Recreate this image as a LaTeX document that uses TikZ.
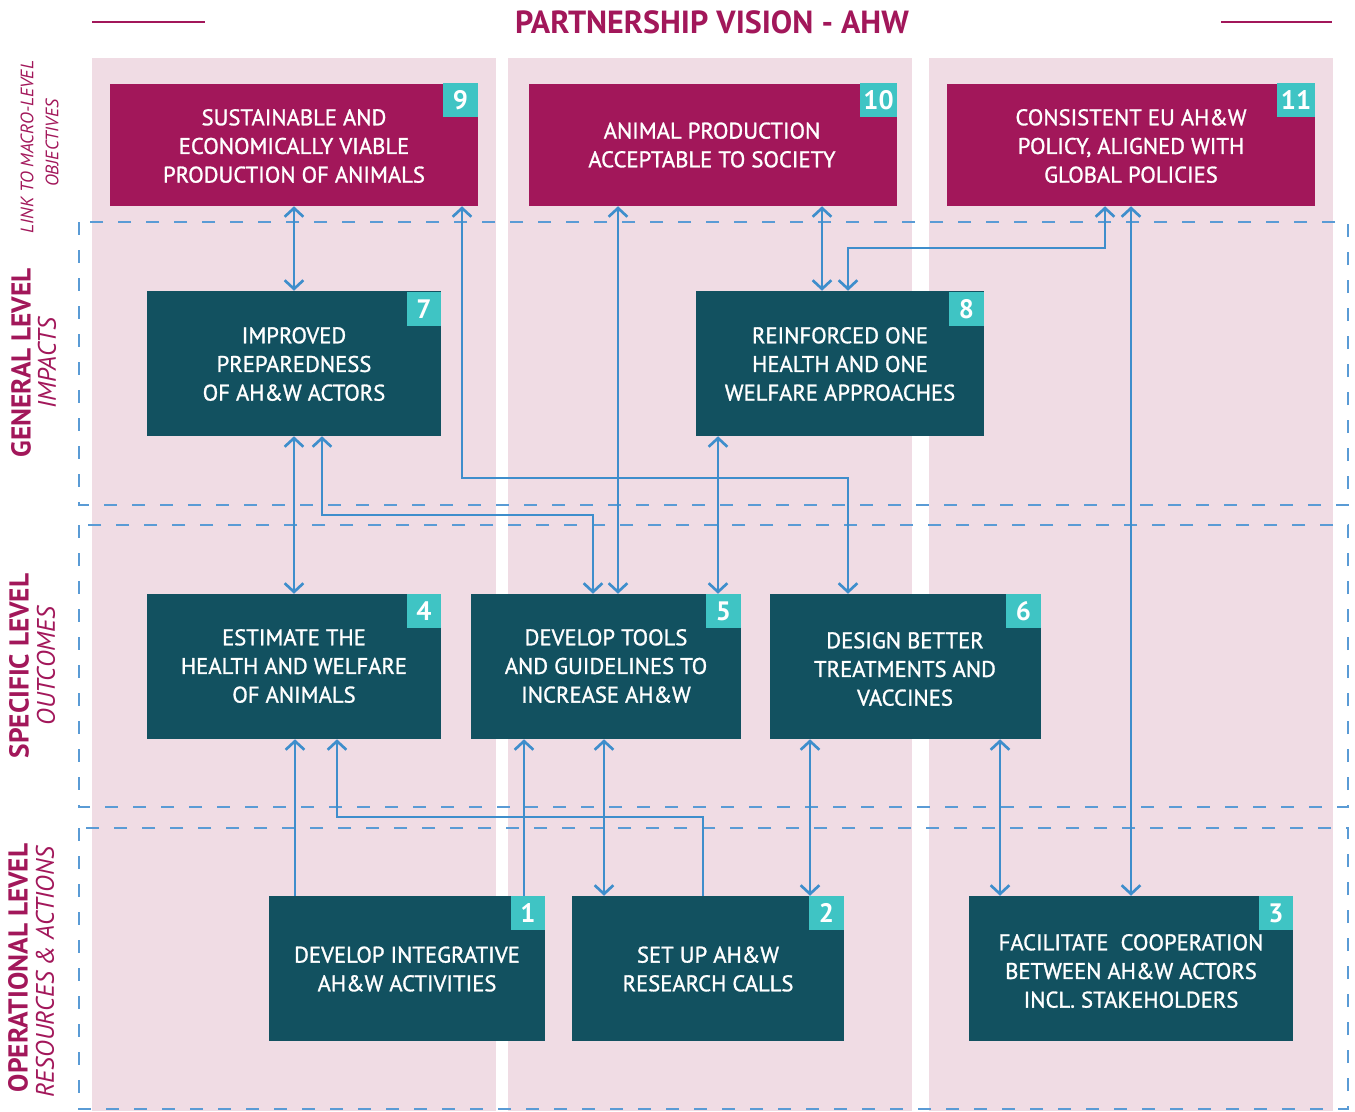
\documentclass[tikz,border=0pt]{standalone}
\usepackage{fontspec}
\setmainfont{PT Sans}
\newfontfamily\boxfont[FakeBold=1.2]{PT Sans}
\usetikzlibrary{arrows.meta,fit}
\definecolor{mag}{HTML}{A2175A}
\definecolor{pinkbg}{HTML}{F0DCE4}
\definecolor{dteal}{HTML}{125160}
\definecolor{lteal}{HTML}{3FC4C4}
\definecolor{cblue}{HTML}{3E8ECC}
\definecolor{dblue}{HTML}{5A9BD5}
\begin{document}
\begin{tikzpicture}[x=0.75pt,y=-0.75pt,
  >={Straight Barb[length=6.5pt,width=14pt]},
  conn/.style={draw=cblue,line width=2pt},
  dashbox/.style={draw=dblue,line width=1.1pt,dash pattern=on 10pt off 11pt},
  magbox/.style={fill=mag,inner sep=0pt,draw=none},
  tealbox/.style={fill=dteal,inner sep=0pt,draw=none},
  numbox/.style={fill=lteal,inner sep=0pt,draw=none},
  numtext/.style={text=white,inner sep=0pt,font=\bfseries\fontsize{20}{22}\selectfont},
  boxtext/.style={text=white,align=center,font=\boxfont\fontsize{17}{21.5}\selectfont},
  lvlbold/.style={rotate=90,text=mag,font=\bfseries\fontsize{20.5}{22}\selectfont},
  lvlital/.style={rotate=90,text=mag,font=\itshape\fontsize{19}{21}\selectfont},
  lvlsmall/.style={rotate=90,text=mag,font=\itshape\fontsize{13.5}{15}\selectfont}]
\useasboundingbox (0,0) rectangle (1355,1111);

% title
\draw[mag,line width=2pt] (92,22) -- (205,22);
\draw[mag,line width=2pt] (1221,22) -- (1332,22);
\node[text=mag,font=\bfseries\fontsize{24}{28}\selectfont] (title) at (712,22) {PARTNERSHIP VISION - AHW};

% pink columns
\fill[pinkbg] (92,58) rectangle (496,1111);
\fill[pinkbg] (508,58) rectangle (912,1111);
\fill[pinkbg] (929,58) rectangle (1333,1111);

% dashed level frames
\draw[dashbox] (79,222) rectangle (1348,505);
\draw[dashbox] (79,525) rectangle (1348,807);
\draw[dashbox] (79,828) rectangle (1348,1109);

% left labels
\node[lvlsmall] (lk1) at (27,147) {LINK TO MACRO-LEVEL};
\node[lvlsmall] (lk2) at (52,143) {OBJECTIVES};
\node[lvlbold] (gl1) at (21,363) {GENERAL LEVEL};
\node[lvlital] (gl2) at (47,363) {IMPACTS};
\node[lvlbold] (sl1) at (19,666) {SPECIFIC LEVEL};
\node[lvlital] (sl2) at (46,666) {OUTCOMES};
\node[lvlbold] (ol1) at (18,968) {OPERATIONAL LEVEL};
\node[lvlital] (ol2) at (45,972) {RESOURCES \& ACTIONS};

% boxes
\node[magbox,fit={(110,84) (478,206)}] (b9) {};
\node[magbox,fit={(529,84) (897,206)}] (b10) {};
\node[magbox,fit={(947,84) (1315,206)}] (b11) {};
\node[tealbox,fit={(147,291) (441,436)}] (b7) {};
\node[tealbox,fit={(696,291) (984,436)}] (b8) {};
\node[tealbox,fit={(147,594) (441,739)}] (b4) {};
\node[tealbox,fit={(471,594) (741,739)}] (b5) {};
\node[tealbox,fit={(770,594) (1041,739)}] (b6) {};
\node[tealbox,fit={(269,896) (545,1041)}] (b1) {};
\node[tealbox,fit={(572,896) (844,1041)}] (b2) {};
\node[tealbox,fit={(969,896) (1293,1041)}] (b3) {};

% connectors
\draw[conn,<->] (b9.south -| 294,0) -- (b7.north -| 294,0);
\draw[conn,<->] (b9.south -| 462,0) |- (848,478) -- (b6.north -| 848,0);
\draw[conn,<->] (b10.south -| 618,0) -- (b5.north -| 618,0);
\draw[conn,<->] (b10.south -| 822,0) -- (b8.north -| 822,0);
\draw[conn,<->] (b11.south -| 1105,0) |- (848,248) -- (b8.north -| 848,0);
\draw[conn,<->] (b11.south -| 1131,0) -- (b3.north -| 1131,0);
\draw[conn,<->] (b7.south -| 294,0) -- (b4.north -| 294,0);
\draw[conn,<->] (b7.south -| 322,0) |- (593,515) -- (b5.north -| 593,0);
\draw[conn,<->] (b8.south -| 718,0) -- (b5.north -| 718,0);
\draw[conn,->] (b1.north -| 295,0) -- (b4.south -| 295,0);
\draw[conn,->] (b2.north -| 703,0) |- (337,817) -- (b4.south -| 337,0);
\draw[conn,->] (b1.north -| 524,0) -- (b5.south -| 524,0);
\draw[conn,<->] (b2.north -| 604,0) -- (b5.south -| 604,0);
\draw[conn,<->] (b2.north -| 810,0) -- (b6.south -| 810,0);
\draw[conn,<->] (b3.north -| 1000,0) -- (b6.south -| 1000,0);

% box texts
\node[boxtext] (t9) at (294,146) {SUSTAINABLE AND\\ECONOMICALLY VIABLE\\PRODUCTION OF ANIMALS};
\node[boxtext] (t10) at (712,145) {ANIMAL PRODUCTION\\ACCEPTABLE TO SOCIETY};
\node[boxtext] (t11) at (1131,146) {CONSISTENT EU AH\&W\\POLICY, ALIGNED WITH\\GLOBAL POLICIES};
\node[boxtext] (t7) at (294,364) {IMPROVED\\PREPAREDNESS\\OF AH\&W ACTORS};
\node[boxtext] (t8) at (840,364) {REINFORCED ONE\\HEALTH AND ONE\\WELFARE APPROACHES};
\node[boxtext] (t4) at (294,666) {ESTIMATE THE\\HEALTH AND WELFARE\\OF ANIMALS};
\node[boxtext] (t5) at (606,666) {DEVELOP TOOLS\\AND GUIDELINES TO\\INCREASE AH\&W};
\node[boxtext] (t6) at (905,669) {DESIGN BETTER\\TREATMENTS AND\\VACCINES};
\node[boxtext] (t1) at (407,969) {DEVELOP INTEGRATIVE\\AH\&W ACTIVITIES};
\node[boxtext] (t2) at (708,969) {SET UP AH\&W\\RESEARCH CALLS};
\node[boxtext] (t3) at (1131,971) {FACILITATE\ \ COOPERATION\\BETWEEN AH\&W ACTORS\\INCL. STAKEHOLDERS};

% number squares
\node[numbox,fit={(443,83) (478,117)}] (n9) {};
\node[numbox,fit={(860,83) (897,117)}] (n10) {};
\node[numbox,fit={(1277,83) (1315,117)}] (n11) {};
\node[numbox,fit={(407,292) (441,326)}] (n7) {};
\node[numbox,fit={(949,292) (984,326)}] (n8) {};
\node[numbox,fit={(407,594) (441,628)}] (n4) {};
\node[numbox,fit={(706,594) (741,628)}] (n5) {};
\node[numbox,fit={(1006,594) (1041,628)}] (n6) {};
\node[numbox,fit={(511,896) (545,930)}] (n1) {};
\node[numbox,fit={(809,896) (844,930)}] (n2) {};
\node[numbox,fit={(1259,896) (1293,930)}] (n3) {};
\foreach \n in {1,...,11} {\node[numtext] (nt\n) at (n\n.center) {\n};}
\end{tikzpicture}
\end{document}
